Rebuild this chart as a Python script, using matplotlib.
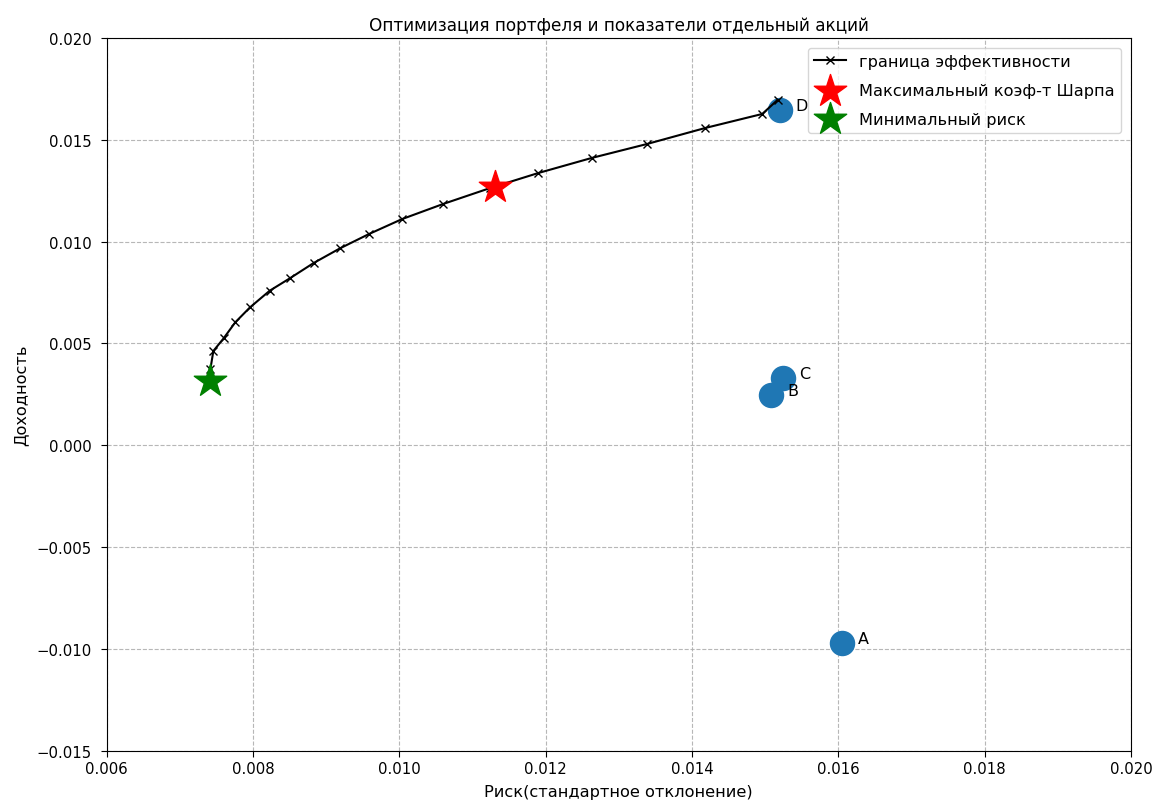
import matplotlib
matplotlib.use("Agg")
import matplotlib.pyplot as plt

# ---------------------------------------------------------------------------
# Data
# ---------------------------------------------------------------------------
frontier_risk = [0.00742, 0.00742, 0.00746, 0.00760, 0.00776, 0.00796, 0.00823,
                 0.00851, 0.00883, 0.00919, 0.00959, 0.01004, 0.01060, 0.01124,
                 0.01190, 0.01263, 0.01338, 0.01418, 0.01496, 0.01517]
frontier_ret = [0.00316, 0.00375, 0.00463, 0.00525, 0.00604, 0.00677, 0.00759,
                0.00821, 0.00895, 0.00967, 0.01038, 0.01111, 0.01185, 0.01263,
                0.01337, 0.01411, 0.01479, 0.01558, 0.01627, 0.01696]

stock_names = ["A", "B", "C", "D"]
stock_risk = [0.01605, 0.01508, 0.01524, 0.01520]
stock_ret = [-0.00971, 0.00247, 0.00330, 0.01646]

max_sharpe = (0.01131, 0.01268)
min_risk = (0.00741, 0.00316)

# ---------------------------------------------------------------------------
# Plot
# ---------------------------------------------------------------------------
fig = plt.figure(figsize=(11.54, 8.03), dpi=100)
ax = fig.add_axes([0.0923, 0.0639, 0.8878, 0.8875])

ax.scatter(stock_risk, stock_ret, s=300, color="#1f77b4", zorder=2)
for name, x, y in zip(stock_names, stock_risk, stock_ret):
    ax.annotate(name, (x, y), xytext=(16, 0), textcoords="offset pixels",
                fontsize=11.5, va="baseline")

ax.plot(frontier_risk, frontier_ret, color="black", marker="x",
        label="граница эффективности", zorder=3)
ax.scatter(*max_sharpe, marker="*", color="r", s=600,
           label="Максимальный коэф-т Шарпа", zorder=4)
ax.scatter(*min_risk, marker="*", color="g", s=600,
           label="Минимальный риск", zorder=4)

ax.set_xlim(0.006, 0.020)
ax.set_ylim(-0.015, 0.020)
ax.grid(True, linestyle="--", color="#b0b0b0", alpha=0.9)
ax.tick_params(labelsize=10.7, length=4)
ax.tick_params(axis="y", pad=6.5)

ax.set_title("Оптимизация портфеля и показатели отдельный акций", fontsize=12.2)
ax.set_xlabel("Риск(стандартное отклонение)", fontsize=11.6, labelpad=6)
ax.set_ylabel("Доходность", fontsize=11.6, labelpad=6)
ax.legend(loc="upper right", fontsize=11.6, labelspacing=0.85,
          handlelength=2.0, borderaxespad=0.6)

fig.savefig("out.png", dpi=100)
